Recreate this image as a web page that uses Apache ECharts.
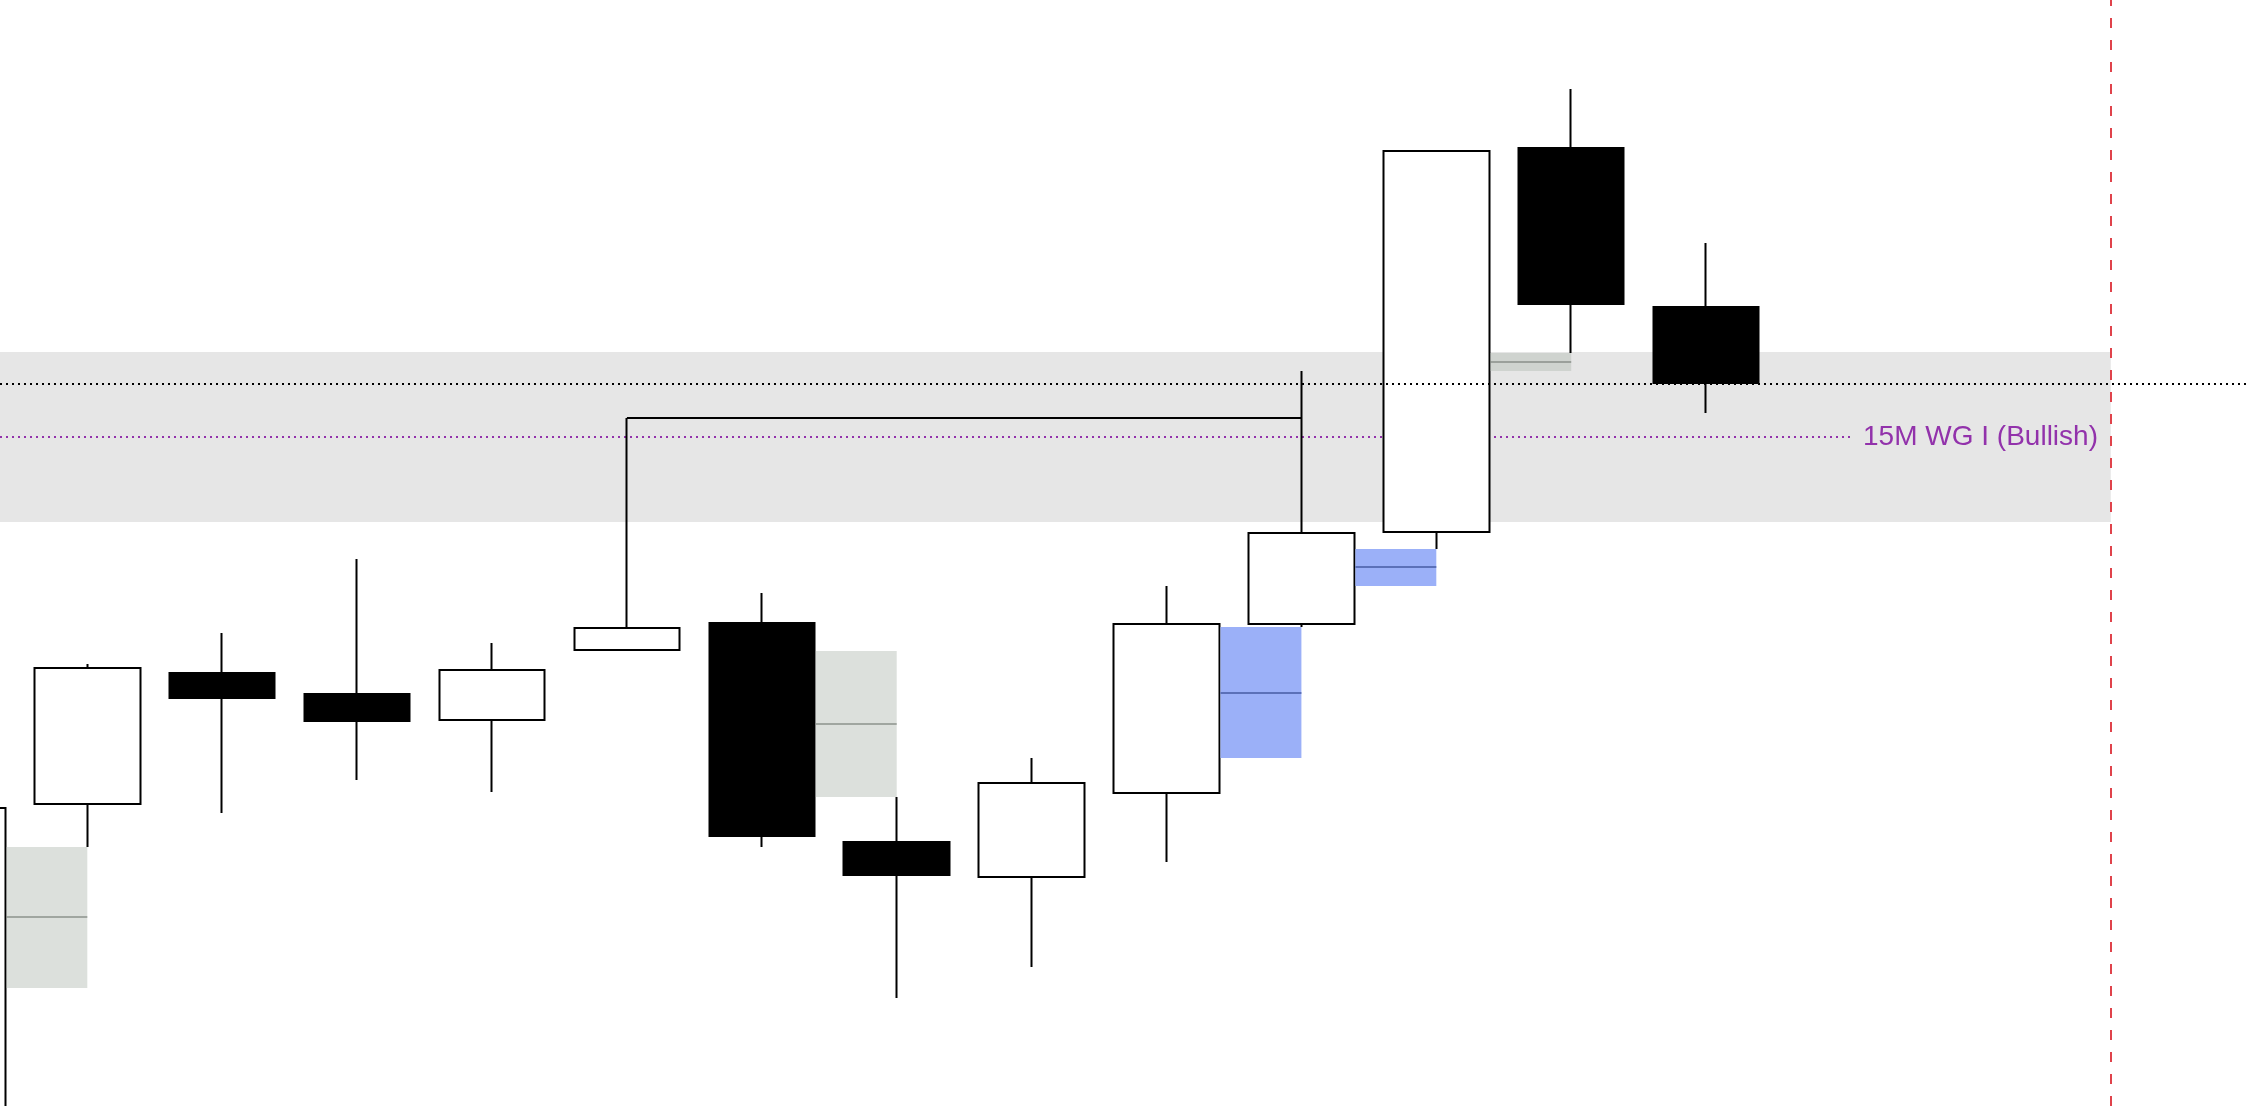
<!DOCTYPE html>
<html><head><meta charset="utf-8">
<script src="https://cdn.jsdelivr.net/npm/echarts@6/dist/echarts.min.js"></script>
<style>html,body{margin:0;padding:0;background:#fff;overflow:hidden}#c{width:2248px;height:1106px}</style>
</head><body><div id="c"></div>
<script>
// ---- data ----
const candleIndex = [0, 1, 2, 3, 4, 5, 6, 7, 8, 9, 10, 11, 12, 13];
const opens  = [18200, 18299, 18331.75, 18326.5, 18320, 18337.5, 18344.25, 18289.5, 18280.75, 18301.75, 18344, 18367, 18463, 18423.25];
const closes = [18298, 18333, 18325.5, 18319.75, 18332.5, 18343, 18291, 18281.25, 18304.25, 18344, 18366.75, 18462.25, 18424, 18404.25];
const lows   = [18195, 18288.25, 18296.75, 18305, 18302, 18337.5, 18288.25, 18250.5, 18258.25, 18284.5, 18343.25, 18362.75, 18411.75, 18396.75];
const highs  = [18298, 18334, 18341.75, 18360.25, 18339.25, 18395.5, 18351.75, 18300.75, 18310.5, 18353.5, 18407.25, 18462.25, 18477.75, 18439.25];

// fair value gap boxes
const gapFrom   = [0.4, 6.4, 9.4, 10.4, 11.4];
const gapTo     = [1, 7, 10, 11, 12];
const gapTop    = [18288.25, 18337.25, 18343.25, 18362.75, 18411.75];
const gapBottom = [18253, 18300.75, 18310.5, 18353.5, 18407.25];
const gapMid    = [18270.75, 18319, 18326.75, 18358.25, 18409.5];
const gapKind   = ['grey', 'grey', 'blue', 'blue', 'grey'];

// zone / levels
const zoneTop = 18412, zoneBottom = 18369.5;
const keyLevel = 18404;
const wgLevel = 18390.75, wgLabel = '15M WG I (Bullish)', wgEnd = 14.067;
const swingFrom = 5, swingTo = 10, swingPrice = 18395.5;
const nowIndex = 16;

// view range
const xMin = 0.3528, xMax = 17.017;
const yMin = 18223.5, yMax = 18500;

// ---- build ----
const candleData = candleIndex.map((x, i) => [x, opens[i], closes[i], lows[i], highs[i]]);
const boxFill = { grey: 'rgba(182,190,182,0.48)', blue: '#9bb0f8' };
const midColor = { grey: 'rgba(120,126,120,0.6)', blue: '#5b70b8' };

const gapAreas = gapFrom.map((f, i) => [
  { coord: [f, gapTop[i]], itemStyle: { color: boxFill[gapKind[i]] } },
  { coord: [gapTo[i], gapBottom[i]] }
]);
const gapMidLines = gapFrom.map((f, i) => [
  { coord: [f, gapMid[i]], lineStyle: { color: midColor[gapKind[i]], width: 2, type: 'solid' } },
  { coord: [gapTo[i], gapMid[i]] }
]);

const chart = echarts.init(document.getElementById('c'), null, { renderer: 'canvas' });
chart.setOption({
  animation: false,
  backgroundColor: '#ffffff',
  grid: { left: 0, right: 0, top: 0, bottom: 0, containLabel: false },
  xAxis: { type: 'value', min: xMin, max: xMax, show: false },
  yAxis: { type: 'value', min: yMin, max: yMax, show: false, scale: true },
  series: [
    {
      type: 'line', data: [], silent: true, z: 1,
      markArea: {
        z: 0, silent: true,
        itemStyle: { color: '#e6e6e6' },
        label: { show: false },
        data: [[{ coord: [xMin, zoneTop] }, { coord: [nowIndex, zoneBottom] }]]
      },
      markLine: {
        z: 1, silent: true, symbol: ['none', 'none'],
        data: [[
          { coord: [xMin, wgLevel], lineStyle: { color: '#9232ab', width: 2, type: [2, 4] },
            label: { show: true, position: 'end', formatter: wgLabel, color: '#9232ab', fontSize: 28,
                     fontFamily: 'Liberation Sans', distance: 13, padding: [5, 0, 0, 0] } },
          { coord: [wgEnd, wgLevel] }
        ]]
      }
    },
    {
      type: 'candlestick', name: 'price', data: candleData, z: 2, clip: false,
      barWidth: 106, silent: true,
      itemStyle: { color: '#ffffff', color0: '#000000', borderColor: '#000000', borderColor0: '#000000', borderWidth: 2 },
      markArea: { z: 3, silent: true, label: { show: false }, data: gapAreas },
      markLine: {
        z: 5, silent: true, symbol: ['none', 'none'], label: { show: false },
        data: [
          { yAxis: keyLevel, lineStyle: { color: '#000000', width: 2, type: [2, 4] } },
          { xAxis: nowIndex, lineStyle: { color: '#e0434b', width: 2, type: [10, 12] } },
          [ { coord: [swingFrom, swingPrice], lineStyle: { color: '#000000', width: 2, type: 'solid' } },
            { coord: [swingTo, swingPrice] } ]
        ].concat(gapMidLines)
      }
    }
  ]
});
</script></body></html>
